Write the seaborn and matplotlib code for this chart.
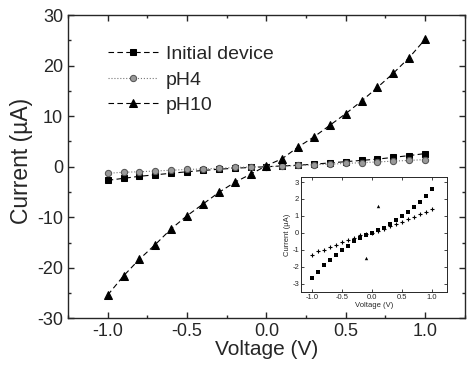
import numpy as np
import pandas as pd
import seaborn as sns
import matplotlib.pyplot as plt
from matplotlib.ticker import MultipleLocator

# Data
voltage = [-1.0, -0.9, -0.8, -0.7, -0.6, -0.5, -0.4, -0.3, -0.2, -0.1, 0.0,
           0.1, 0.2, 0.3, 0.4, 0.5, 0.6, 0.7, 0.8, 0.9, 1.0]
initial_device = [-2.7, -2.3, -1.9, -1.6, -1.3, -1.0, -0.75, -0.5, -0.3, -0.15, 0.0,
                  0.15, 0.3, 0.5, 0.75, 1.0, 1.25, 1.5, 1.85, 2.2, 2.6]
ph4 = [-1.3, -1.1, -1.0, -0.85, -0.7, -0.55, -0.45, -0.3, -0.15, -0.05, 0.0,
       0.1, 0.25, 0.4, 0.5, 0.65, 0.8, 0.95, 1.1, 1.25, 1.4]
ph10 = [-25.4, -21.6, -18.3, -15.4, -12.3, -9.7, -7.4, -5.1, -3.1, -1.5, 0.2,
        1.6, 3.9, 5.9, 8.2, 10.5, 13.0, 15.7, 18.5, 21.6, 25.2]

# inset only shows the pH10 points within +-3 uA
inset_ph10_v = [-0.1, 0.1]
inset_ph10_i = [-1.5, 1.6]

sns.set_style('ticks')
plt.rcParams['font.family'] = ['Liberation Sans', 'DejaVu Sans']
plt.rcParams['axes.unicode_minus'] = False

fig = plt.figure(figsize=(4.69, 3.68), dpi=100)
ax = fig.add_axes([0.145, 0.135, 0.846, 0.824])

sns.lineplot(x=voltage, y=initial_device, ax=ax, color='black', marker='s',
             markersize=4.5, linestyle=(0, (5, 3)), linewidth=0.8,
             markeredgecolor='black', label='Initial device')
sns.lineplot(x=voltage, y=ph4, ax=ax, color='#777777', marker='o',
             markersize=4.5, linestyle=':', linewidth=0.8,
             markerfacecolor='#999999', markeredgecolor='#555555', label='pH4')
sns.lineplot(x=voltage, y=ph10, ax=ax, color='black', marker='^',
             markersize=6, linestyle=(0, (5, 3)), linewidth=0.8,
             markeredgecolor='black', label='pH10')

ax.set_xlim(-1.25, 1.25)
ax.set_ylim(-30, 30)
ax.xaxis.set_minor_locator(MultipleLocator(0.25))
ax.yaxis.set_major_locator(MultipleLocator(10))
ax.yaxis.set_minor_locator(MultipleLocator(5))
ax.set_xticks([-1.0, -0.5, 0.0, 0.5, 1.0])
ax.set_xticklabels(['-1.0', '-0.5', '0.0', '0.5', '1.0'])
ax.tick_params(which='both', top=True, right=True, direction='in', labelsize=13)
ax.tick_params(which='major', length=4, width=1)
ax.tick_params(which='minor', length=2.5, width=1)
for s in ax.spines.values():
    s.set_linewidth(1.0)
ax.set_xlabel('Voltage (V)', fontsize=15, labelpad=0)
ax.set_ylabel('Current (\u00b5A)', fontsize=16.5)
ax.yaxis.set_label_coords(-0.088, 0.52)

ax.legend(loc='upper left', bbox_to_anchor=(0.08, 0.925), frameon=False,
          fontsize=14, handlelength=2.6, handletextpad=0.4,
          labelspacing=0.4, borderaxespad=0)

# Inset
ins = fig.add_axes([0.642, 0.2065, 0.311, 0.3125])
sns.scatterplot(x=voltage, y=initial_device, ax=ins, color='black', marker='s',
                s=6, linewidth=0, legend=False)
sns.scatterplot(x=voltage, y=ph4, ax=ins, color='black', marker='+',
                s=8, linewidth=0.8, legend=False)
sns.scatterplot(x=inset_ph10_v, y=inset_ph10_i, ax=ins, color='black', marker='^',
                s=6, linewidth=0, legend=False)
ins.set_xlim(-1.18, 1.25)
ins.set_ylim(-3.5, 3.3)
ins.yaxis.set_major_locator(MultipleLocator(1))
ins.set_xticks([-1.0, -0.5, 0.0, 0.5, 1.0])
ins.set_xticklabels(['-1.0', '-0.5', '0.0', '0.5', '1.0'])
ins.tick_params(which='both', top=True, right=True, direction='in',
                labelsize=5.5, length=2, width=0.6, pad=1.5)
for s in ins.spines.values():
    s.set_linewidth(0.7)
ins.set_xlabel('Voltage (V)', fontsize=5.5, labelpad=1)
ins.set_ylabel('Current (\u00b5A)', fontsize=5.5, labelpad=1)

fig.savefig('out.png', dpi=100)
